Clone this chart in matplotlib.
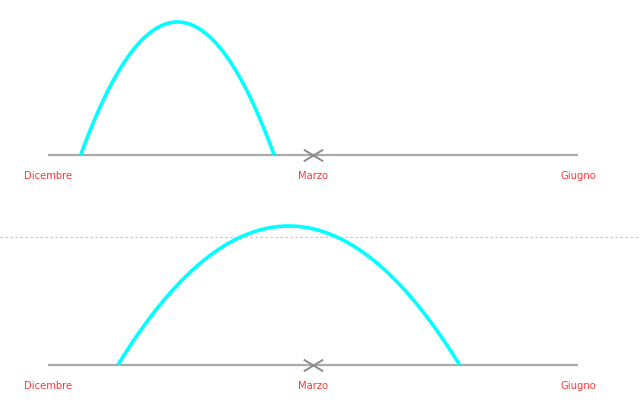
import matplotlib
matplotlib.use("Agg")
import matplotlib.pyplot as plt
from matplotlib.path import Path
import numpy as np

# Timeline (months from December)
month_labels = ["Dicembre", "Marzo", "Giugno"]
month_positions = [0, 3, 6]
marker_month = 3

# Arc spans (start month, end month) and heights for each panel
arc_starts = [0.37, 0.79]
arc_ends = [2.56, 4.66]
arc_heights = [133, 139]

W, H = 640, 406
fig = plt.figure(figsize=(W / 100, H / 100), dpi=100)

px_per_month = 530 / 6.0
x0_px = 48
xlim = (-x0_px / px_per_month, (W - x0_px) / px_per_month)

sep_px = 238
base_top, base_bot = 156, 366
panels = [
    dict(rect=[0, (H - sep_px) / H, 1, sep_px / H], ylim=(-(sep_px - base_top), base_top)),
    dict(rect=[0, 0, 1, (H - sep_px) / H], ylim=(-(H - base_bot), base_bot - sep_px)),
]

flat_x = Path([(-1, -0.6), (1, 0.6), (-1, 0.6), (1, -0.6)],
              [Path.MOVETO, Path.LINETO, Path.MOVETO, Path.LINETO])

for i, p in enumerate(panels):
    ax = fig.add_axes(p["rect"])
    ax.set_xlim(*xlim)
    ax.set_ylim(*p["ylim"])
    ax.set_axis_off()
    ax.plot([month_positions[0], month_positions[-1]], [0, 0], color="#aaaaaa",
            lw=1.6, solid_capstyle="butt", zorder=2)
    ax.plot([marker_month], [0], marker=flat_x, color="#8c8c8c", ms=14, mew=1.4,
            zorder=3, clip_on=False)
    t = np.linspace(0, 1, 200)
    xs = arc_starts[i] + (arc_ends[i] - arc_starts[i]) * t
    ys = arc_heights[i] * 4 * t * (1 - t)
    ax.plot(xs, ys, color="#00ffff", lw=2.6, solid_capstyle="butt", zorder=4,
            clip_on=False)
    for lab, m in zip(month_labels, month_positions):
        ax.text(m, -20, lab, color="#ff3838", fontsize=7.2,
                ha="center", va="center", family="DejaVu Sans")

sep_ax = fig.axes[1]
sep_ax.axhline(panels[1]["ylim"][1], color="#c8c8c8", lw=0.9, ls=(0, (2, 2)),
               zorder=1, clip_on=False)

fig.savefig("out.png", dpi=100, facecolor="white")
